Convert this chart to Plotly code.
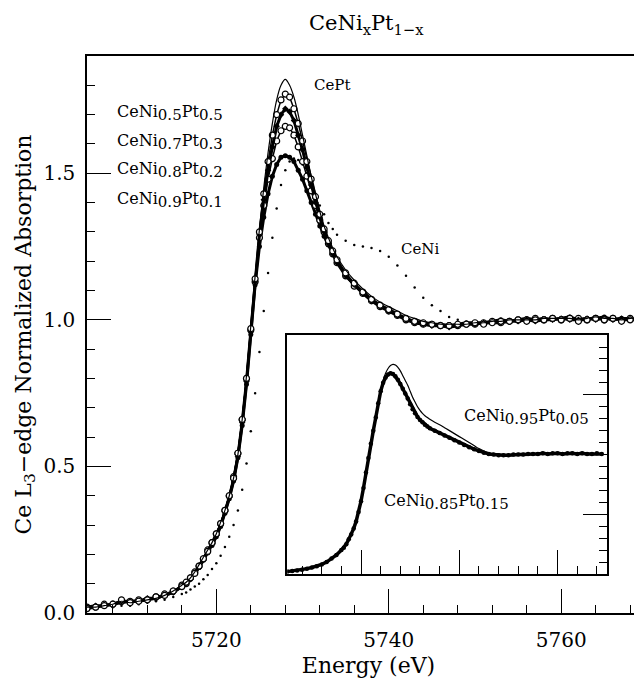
import plotly.graph_objects as go

energy = [5705, 5706, 5707, 5708, 5709, 5710, 5711, 5712, 5713, 5714, 5715,
          5716, 5716.5, 5717, 5717.5, 5718, 5718.5, 5719, 5719.5, 5720, 5720.5,
          5721, 5721.5, 5722, 5722.5, 5723, 5723.5, 5724, 5724.5, 5725, 5725.5,
          5726, 5726.5, 5727, 5727.5, 5728, 5728.5, 5729, 5729.5, 5730, 5730.5,
          5731, 5731.5, 5732, 5732.5, 5733, 5733.5, 5734,
          5735, 5736, 5737, 5738, 5739, 5740, 5741, 5742, 5743, 5744,
          5745, 5746, 5747, 5748, 5749, 5750, 5751, 5752, 5753, 5754,
          5755, 5756, 5757, 5758, 5759, 5760, 5761, 5762, 5763, 5764,
          5765, 5766, 5767, 5768, 5769]

cept = [0.020, 0.020, 0.025, 0.030, 0.040, 0.035, 0.040, 0.045, 0.050, 0.060, 0.075,
        0.095, 0.105, 0.120, 0.140, 0.165, 0.190, 0.215, 0.240, 0.270, 0.310,
        0.350, 0.400, 0.460, 0.540, 0.660, 0.810, 0.980, 1.150, 1.310, 1.450,
        1.570, 1.670, 1.750, 1.800, 1.820, 1.800, 1.760, 1.700, 1.630, 1.560,
        1.490, 1.430, 1.370, 1.320, 1.280, 1.245, 1.215,
        1.170, 1.135, 1.105, 1.080, 1.060, 1.045, 1.030, 1.015, 1.005, 0.995,
        0.990, 0.985, 0.985, 0.985, 0.985, 0.990, 0.990, 0.995, 0.995, 1.000,
        1.000, 1.000, 1.000, 1.005, 1.005, 1.005, 1.005, 1.000, 1.005, 1.010,
        1.005, 1.005, 1.000, 1.005, 1.005]

ni05 = [0.015, 0.020, 0.025, 0.030, 0.045, 0.035, 0.040, 0.045, 0.055, 0.060, 0.075,
        0.090, 0.105, 0.120, 0.135, 0.160, 0.185, 0.210, 0.240, 0.270, 0.305,
        0.350, 0.400, 0.460, 0.545, 0.660, 0.800, 0.970, 1.140, 1.300, 1.430,
        1.540, 1.630, 1.700, 1.750, 1.770, 1.760, 1.720, 1.670, 1.610, 1.540,
        1.480, 1.420, 1.360, 1.310, 1.270, 1.235, 1.205,
        1.160, 1.125, 1.095, 1.070, 1.050, 1.035, 1.020, 1.005, 0.995, 0.990,
        0.985, 0.980, 0.980, 0.985, 0.985, 0.990, 0.985, 0.990, 0.995, 0.995,
        1.000, 0.995, 1.000, 1.000, 1.005, 1.000, 1.005, 0.995, 1.000, 1.005,
        1.000, 1.005, 0.995, 1.000, 1.005]

ni07 = [0.020, 0.025, 0.025, 0.030, 0.040, 0.040, 0.040, 0.050, 0.050, 0.060, 0.070,
        0.090, 0.100, 0.115, 0.135, 0.160, 0.185, 0.210, 0.235, 0.265, 0.300,
        0.345, 0.395, 0.455, 0.535, 0.650, 0.790, 0.960, 1.130, 1.290, 1.410,
        1.510, 1.590, 1.660, 1.700, 1.720, 1.710, 1.680, 1.630, 1.580, 1.520,
        1.460, 1.400, 1.350, 1.300, 1.260, 1.225, 1.195,
        1.150, 1.120, 1.090, 1.065, 1.045, 1.030, 1.015, 1.000, 0.990, 0.985,
        0.980, 0.980, 0.975, 0.980, 0.985, 0.985, 0.990, 0.990, 0.990, 0.995,
        0.995, 1.000, 0.995, 1.000, 1.000, 1.005, 1.000, 1.000, 1.005, 1.000,
        1.005, 1.000, 1.005, 1.000, 1.000]

ni08 = [0.020, 0.020, 0.030, 0.030, 0.040, 0.040, 0.045, 0.045, 0.055, 0.065, 0.075,
        0.095, 0.100, 0.120, 0.140, 0.160, 0.185, 0.215, 0.240, 0.270, 0.305,
        0.350, 0.400, 0.465, 0.545, 0.660, 0.800, 0.965, 1.130, 1.280, 1.390,
        1.480, 1.550, 1.610, 1.645, 1.660, 1.655, 1.630, 1.590, 1.540, 1.490,
        1.440, 1.390, 1.340, 1.300, 1.260, 1.225, 1.195,
        1.150, 1.115, 1.090, 1.065, 1.045, 1.030, 1.015, 1.000, 0.990, 0.985,
        0.985, 0.980, 0.980, 0.980, 0.985, 0.985, 0.990, 0.995, 0.990, 0.995,
        1.000, 1.000, 1.005, 1.000, 1.005, 1.000, 1.005, 1.005, 1.000, 1.005,
        1.000, 1.005, 1.000, 1.005, 1.000]

ni09 = [0.015, 0.020, 0.025, 0.030, 0.035, 0.040, 0.040, 0.045, 0.050, 0.060, 0.070,
        0.090, 0.100, 0.115, 0.135, 0.155, 0.180, 0.205, 0.230, 0.260, 0.295,
        0.340, 0.390, 0.450, 0.530, 0.640, 0.780, 0.950, 1.120, 1.250, 1.350,
        1.430, 1.490, 1.530, 1.555, 1.560, 1.555, 1.540, 1.510, 1.480, 1.440,
        1.400, 1.360, 1.320, 1.285, 1.255, 1.225, 1.200,
        1.155, 1.120, 1.095, 1.070, 1.050, 1.035, 1.020, 1.005, 0.995, 0.990,
        0.985, 0.985, 0.980, 0.985, 0.990, 0.990, 0.990, 0.995, 1.000, 0.995,
        1.000, 1.005, 1.000, 1.005, 1.000, 1.005, 1.010, 1.000, 1.005, 1.005,
        1.010, 1.000, 1.005, 1.005, 1.000]

ceni = [0.015, 0.015, 0.020, 0.020, 0.025, 0.025, 0.030, 0.035, 0.040, 0.045, 0.055,
        0.065, 0.070, 0.080, 0.090, 0.100, 0.115, 0.130, 0.150, 0.170, 0.195,
        0.225, 0.260, 0.300, 0.350, 0.420, 0.510, 0.620, 0.750, 0.890, 1.030,
        1.160, 1.280, 1.380, 1.460, 1.510, 1.540, 1.550, 1.545, 1.530, 1.500,
        1.470, 1.430, 1.390, 1.360, 1.330, 1.310, 1.290,
        1.270, 1.255, 1.250, 1.245, 1.235, 1.215, 1.185, 1.150, 1.110, 1.075,
        1.050, 1.030, 1.010, 1.000, 0.990, 0.990, 0.990, 0.995, 0.995, 1.000,
        1.000, 1.000, 1.000, 1.005, 1.000, 1.005, 1.005, 1.000, 1.005, 1.005,
        1.005, 1.000, 1.005, 1.005, 1.000]

# inset series
ni085 = [0.020, 0.025, 0.030, 0.035, 0.045, 0.055, 0.065, 0.080, 0.100, 0.130, 0.160,
         0.200, 0.220, 0.250, 0.290, 0.330, 0.380, 0.440, 0.520, 0.610, 0.720,
         0.850, 0.970, 1.090, 1.200, 1.310, 1.430, 1.530, 1.600, 1.645, 1.670,
         1.680, 1.675, 1.655, 1.625, 1.590, 1.550, 1.510, 1.470, 1.420, 1.380,
         1.345, 1.315, 1.290, 1.270, 1.250, 1.235, 1.220,
         1.200, 1.180, 1.160, 1.140, 1.120, 1.100, 1.080, 1.060, 1.045, 1.030,
         1.015, 1.005, 1.000, 0.995, 0.995, 0.995, 1.000, 1.000, 1.000, 1.005,
         1.005, 1.005, 1.010, 1.005, 1.010, 1.010, 1.005, 1.010, 1.010, 1.005,
         1.010, 1.005, 1.005, 1.010, 1.005]

ni095 = [0.020, 0.025, 0.030, 0.035, 0.045, 0.055, 0.065, 0.080, 0.100, 0.130, 0.160,
         0.200, 0.220, 0.250, 0.290, 0.330, 0.380, 0.440, 0.520, 0.610, 0.720,
         0.850, 0.970, 1.090, 1.200, 1.320, 1.440, 1.540, 1.620, 1.680, 1.720,
         1.745, 1.755, 1.750, 1.730, 1.700, 1.660, 1.620, 1.580, 1.530, 1.480,
         1.440, 1.400, 1.370, 1.345, 1.325, 1.310, 1.295,
         1.270, 1.250, 1.225, 1.200, 1.175, 1.150, 1.125, 1.100, 1.075, 1.050,
         1.030, 1.015, 1.005, 1.000, 1.000, 1.000, 1.000, 1.005, 1.005, 1.005,
         1.005, 1.010, 1.005, 1.010, 1.010, 1.005, 1.010, 1.005, 1.010, 1.010,
         1.005, 1.010, 1.010, 1.005, 1.010]

FONT = "DejaVu Serif"
BLACK = "black"

fig = go.Figure()

# main panel
fig.add_trace(go.Scatter(x=energy, y=ceni, mode="markers",
                         marker=dict(size=2.5, color=BLACK), xaxis="x", yaxis="y"))
fig.add_trace(go.Scatter(x=energy, y=ni09, mode="lines+markers",
                         line=dict(color=BLACK, width=3),
                         marker=dict(size=5, color=BLACK, symbol="circle")))
fig.add_trace(go.Scatter(x=energy, y=ni08, mode="lines+markers",
                         line=dict(color=BLACK, width=1.5),
                         marker=dict(size=6, color="white", symbol="circle",
                                     line=dict(color=BLACK, width=1.2))))
fig.add_trace(go.Scatter(x=energy, y=ni07, mode="lines+markers",
                         line=dict(color=BLACK, width=3),
                         marker=dict(size=5, color=BLACK, symbol="diamond")))
fig.add_trace(go.Scatter(x=energy, y=ni05, mode="lines+markers",
                         line=dict(color=BLACK, width=1.5),
                         marker=dict(size=6, color="white", symbol="circle",
                                     line=dict(color=BLACK, width=1.2))))
fig.add_trace(go.Scatter(x=energy, y=cept, mode="lines",
                         line=dict(color=BLACK, width=1.2, shape="spline")))

# inset panel
fig.add_trace(go.Scatter(x=energy, y=ni085, mode="lines+markers",
                         line=dict(color=BLACK, width=3.5),
                         marker=dict(size=4.5, color=BLACK),
                         xaxis="x2", yaxis="y2"))
fig.add_trace(go.Scatter(x=energy, y=ni095, mode="lines",
                         line=dict(color=BLACK, width=1.2, shape="spline"),
                         xaxis="x2", yaxis="y2"))


def lab(base1, sub1, base2, sub2, sub_px=15):
    s = f'<span style="font-size:{sub_px}px">'
    return f"{base1}<sub>{s}{sub1}</span></sub>{base2}<sub>{s}{sub2}</span></sub>"


ann_font = dict(family=FONT, size=16, color=BLACK)
annotations = [
    dict(text="CePt", x=5731.1, y=1.80, xref="x", yref="y", xanchor="left",
         yanchor="middle", showarrow=False, font=dict(family=FONT, size=15, color=BLACK)),
    dict(text=lab("CeNi", "0.5", "Pt", "0.5"), x=5708.2, y=1.705, xref="x", yref="y",
         xanchor="left", yanchor="middle", showarrow=False, font=ann_font),
    dict(text=lab("CeNi", "0.7", "Pt", "0.3"), x=5708.2, y=1.607, xref="x", yref="y",
         xanchor="left", yanchor="middle", showarrow=False, font=ann_font),
    dict(text=lab("CeNi", "0.8", "Pt", "0.2"), x=5708.2, y=1.51, xref="x", yref="y",
         xanchor="left", yanchor="middle", showarrow=False, font=ann_font),
    dict(text=lab("CeNi", "0.9", "Pt", "0.1"), x=5708.2, y=1.41, xref="x", yref="y",
         xanchor="left", yanchor="middle", showarrow=False, font=ann_font),
    dict(text="CeNi", x=5743.6, y=1.24, xref="x", yref="y", xanchor="center",
         yanchor="middle", showarrow=False, font=dict(family=FONT, size=15, color=BLACK)),
    dict(text=lab("CeNi", "0.95", "Pt", "0.05"), x=5740.6, y=1.31, xref="x2", yref="y2",
         xanchor="left", yanchor="middle", showarrow=False, font=ann_font),
    dict(text=lab("CeNi", "0.85", "Pt", "0.15"), x=5724.2, y=0.60, xref="x2", yref="y2",
         xanchor="left", yanchor="middle", showarrow=False, font=ann_font),
]

axis_common = dict(showline=True, linecolor=BLACK, linewidth=1.5, ticks="inside",
                   tickcolor=BLACK, tickwidth=1.2, ticklen=24, showgrid=False,
                   zeroline=False, automargin=False)

fig.update_layout(
    width=642, height=687,
    margin=dict(l=79, r=0, t=48, b=82),
    paper_bgcolor="white", plot_bgcolor="white", showlegend=False,
    font=dict(family=FONT, size=20, color=BLACK),
    title=dict(text="CeNi<sub>x</sub>Pt<sub>1−x</sub>",
               x=0.558, xanchor="center", xref="container",
               y=0.978, yanchor="middle", yref="container",
               font=dict(family=FONT, size=21)),
    xaxis=dict(**axis_common, range=[5705, 5770.3], mirror=True, tick0=5720, dtick=20,
               minor=dict(ticks="inside", tick0=5720, dtick=4, ticklen=8, tickwidth=1.2,
                          tickcolor=BLACK),
               ticklabelstandoff=8,
               title=dict(text="Energy (eV)", font=dict(size=22), standoff=7),
               tickfont=dict(size=20)),
    yaxis=dict(**axis_common, range=[0, 1.9], mirror=False, tick0=0, dtick=0.5,
               tickformat=".1f", ticklabelstandoff=6,
               minor=dict(ticks="inside", tick0=0, dtick=0.1, ticklen=8, tickwidth=1.2,
                          tickcolor=BLACK),
               title=dict(text="Ce L<sub>3</sub>−edge Normalized Absorption",
                          font=dict(size=22), standoff=6),
               tickfont=dict(size=20)),
    xaxis2=dict(**axis_common, domain=[0.3558, 0.9231], anchor="y2", range=[5705, 5770],
                mirror=True, tick0=5720, dtick=20, showticklabels=False,
                minor=dict(ticks="inside", tick0=5720, dtick=4, ticklen=8, tickwidth=1.2,
                           tickcolor=BLACK)),
    yaxis2=dict(**axis_common, domain=[0.070, 0.499], anchor="x2", side="right",
                range=[0, 2.0], mirror=True, tick0=0.5, dtick=1, showticklabels=False,
                minor=dict(ticks="inside", tick0=0, dtick=0.1, ticklen=8, tickwidth=1.2,
                           tickcolor=BLACK)),
    annotations=annotations,
)

fig.write_html("out.html")
